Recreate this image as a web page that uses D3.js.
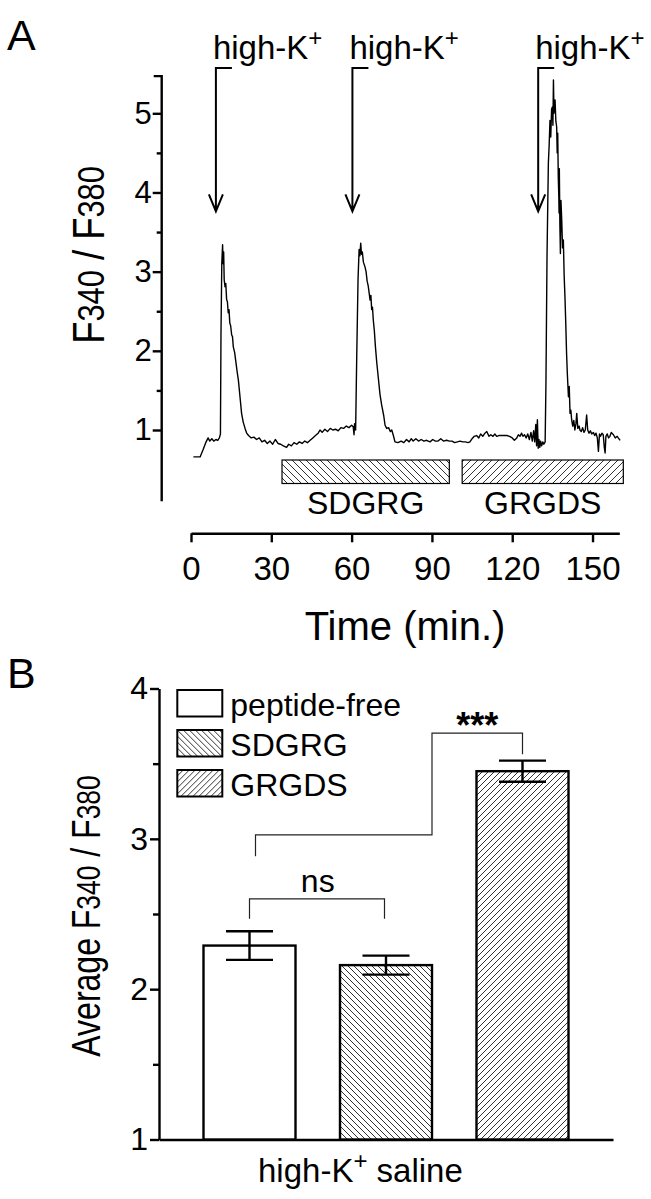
<!DOCTYPE html>
<html>
<head>
<meta charset="utf-8">
<script src="https://cdn.jsdelivr.net/npm/d3@7"></script>
<style>
body { margin: 0; background: #fff; }
svg { display: block; }
text { font-family: "Liberation Sans", Arial, Helvetica, sans-serif; fill: #000; }
</style>
</head>
<body>
<svg id="canvas" width="651" height="1199"></svg>
<script>
const svg = d3.select("#canvas")

// ---- panel A data: F340/F380 trace (time in min)
const traceTime = [0.9, 2.0, 3.4, 4.5, 5.5, 6.4, 7.0, 7.8, 8.5, 9.3, 10.0, 10.6, 11.0, 11.2, 11.5, 11.8, 12.0, 12.2, 12.4, 12.7,
  13.0, 13.3, 13.6, 13.9, 14.2, 14.5, 14.8, 15.2, 15.5, 15.8, 16.3, 16.8, 17.3, 17.7, 18.3, 18.9, 19.5, 20.2, 20.8, 21.5,
  22.5, 23.5, 24.5, 25.5, 26.5, 27.5, 28.5, 29.5, 30.5, 31.5, 32.5, 33.5, 34.5, 35.7, 36.5, 37.5, 38.5, 39.5, 40.5, 41.5,
  42.5, 43.5, 44.5, 45.5, 46.5, 47.5, 48.2, 49.0, 50.0, 51.0, 52.0, 53.0, 54.0, 55.0, 56.0, 57.0, 58.0, 59.0, 60.0, 60.6,
  60.9, 61.1, 61.5, 61.9, 62.4, 62.8, 63.1, 63.4, 63.7, 64.0, 64.4, 65.0, 65.4, 65.8, 66.2, 66.6, 66.9, 67.2, 67.5, 67.8,
  68.1, 68.5, 68.9, 69.4, 70.0, 70.6, 71.2, 72.0, 72.5, 73.1, 73.8, 74.5, 75.0, 75.6, 76.2, 77.3, 78.5, 79.5, 80.5, 81.5,
  82.3, 83.0, 84.0, 85.0, 86.0, 87.0, 88.0, 89.3, 90.3, 91.3, 92.3, 93.3, 94.3, 95.5, 96.5, 97.5, 98.5, 99.5, 100.5, 101.5,
  102.5, 103.5, 104.2, 105.0, 105.8, 106.7, 107.5, 108.2, 109.0, 109.8, 110.5, 111.3, 112.0, 112.8, 113.5, 114.2, 115.0, 116.0, 117.0, 118.0,
  119.0, 120.0, 120.8, 121.7, 122.3, 122.9, 123.5, 124.0, 124.6, 125.2, 125.8, 126.4, 127.0, 127.5, 128.0, 128.4, 128.8, 129.1, 129.4, 129.7,
  130.0, 130.3, 130.6, 131.0, 131.4, 131.8, 132.3, 132.6, 133.0, 133.5, 133.8, 134.1, 134.4, 134.7, 135.0, 135.2, 135.4, 135.6, 136.0, 136.3,
  136.6, 136.8, 137.0, 137.2, 137.4, 137.5, 137.6, 137.8, 138.0, 138.2, 138.5, 138.8, 139.1, 139.4, 139.7, 140.0, 140.3, 140.6, 141.0, 141.3,
  141.6, 141.9, 142.2, 142.6, 143.0, 143.4, 143.8, 144.1, 144.5, 145.0, 145.3, 145.8, 146.3, 146.8, 147.3, 147.8, 148.2, 148.7, 149.2, 149.7,
  150.3, 150.8, 151.3, 151.8, 152.2, 152.6, 153.0, 153.5, 154.0, 154.4, 154.7, 155.0, 155.5, 156.0, 156.5, 157.0, 157.8, 158.5, 159.2, 160.3]
const traceRatio = [0.66, 0.66, 0.66, 0.75, 0.84, 0.90, 0.86, 0.89, 0.86, 0.88, 0.87, 0.90, 0.95, 2.2, 3.1, 3.34, 3.1, 3.25, 2.9, 2.81,
  2.85, 2.65, 2.62, 2.48, 2.52, 2.35, 2.32, 2.2, 2.18, 2.05, 1.98, 1.85, 1.72, 1.63, 1.42, 1.21, 1.10, 1.02, 0.96, 0.93,
  0.90, 0.91, 0.88, 0.90, 0.85, 0.87, 0.83, 0.86, 0.82, 0.88, 0.83, 0.82, 0.80, 0.78, 0.82, 0.80, 0.84, 0.82, 0.85, 0.83,
  0.86, 0.84, 0.87, 0.90, 0.93, 0.96, 1.00, 0.97, 1.01, 0.98, 1.02, 1.00, 1.01, 0.99, 1.03, 1.02, 1.05, 1.03, 1.06, 1.04,
  0.94, 1.08, 1.00, 1.9, 2.9, 3.28, 3.2, 3.36, 3.22, 3.25, 3.12, 3.06, 3.0, 2.88, 2.82, 2.72, 2.64, 2.7, 2.52, 2.55,
  2.39, 2.25, 2.05, 1.85, 1.65, 1.45, 1.32, 1.18, 1.06, 1.02, 1.03, 0.98, 1.00, 0.93, 0.85, 0.84, 0.86, 0.84, 0.88, 0.85,
  0.89, 0.86, 0.89, 0.86, 0.88, 0.86, 0.87, 0.85, 0.88, 0.86, 0.86, 0.89, 0.86, 0.87, 0.86, 0.86, 0.84, 0.85, 0.86, 0.85,
  0.85, 0.84, 0.85, 0.89, 0.92, 0.93, 0.90, 0.95, 0.92, 0.96, 0.98, 0.92, 0.94, 0.92, 0.95, 0.92, 0.93, 0.93, 0.93, 0.93,
  0.92, 0.90, 0.87, 0.90, 0.94, 0.92, 0.96, 0.92, 0.94, 0.90, 0.95, 0.88, 0.97, 0.86, 0.99, 0.85, 1.07, 0.80, 1.13, 0.77,
  0.88, 0.78, 0.86, 0.80, 0.85, 0.82, 0.85, 1.6, 3.2, 4.37, 4.6, 4.91, 4.7, 5.05, 5.08, 4.85, 5.42, 5.0, 5.17, 4.9,
  4.83, 4.5, 4.75, 4.2, 3.95, 3.74, 4.3, 3.6, 3.23, 3.9, 3.65, 3.3, 3.4, 2.95, 2.68, 2.35, 1.97, 1.7, 1.42, 1.55,
  1.21, 1.25, 1.13, 1.05, 1.12, 1.0, 1.08, 1.21, 1.02, 1.05, 1.0, 0.98, 1.03, 0.97, 1.0, 1.19, 1.0, 0.96, 0.99, 0.95,
  0.97, 0.93, 0.96, 0.90, 0.73, 0.95, 0.92, 0.96, 0.94, 0.78, 0.71, 0.92, 0.95, 0.90, 0.92, 0.97, 0.94, 0.90, 0.92, 0.87]

const stimTimes = [9.3, 60.3, 129.7]
const peptideNames = ["SDGRG", "GRGDS"]
const peptideStart = [34, 101.3]
const peptideEnd = [96.5, 161.5]
const timeTicks = [0, 30, 60, 90, 120, 150]
const ratioTicks = [1, 2, 3, 4, 5]
const ratioMinor = [1.5, 2.5, 3.5, 4.5]

// ---- panel B data
const groups = ["peptide-free", "SDGRG", "GRGDS"]
const avgRatio = [2.29, 2.16, 3.45]
const avgSem = [0.095, 0.063, 0.07]
const avgTicks = [1, 2, 3, 4]
const avgMinor = [1.5, 2.5, 3.5]

// hatch patterns
const defs = svg.append("defs")
function hatch(id, size, back) {
  const p = defs.append("pattern").attr("id", id)
    .attr("patternUnits", "userSpaceOnUse").attr("width", size).attr("height", size)
  p.append("rect").attr("width", size).attr("height", size).attr("fill", "#fff")
  const d = back
    ? `M0,0L${size},${size}M${-size/2},${size/2}L${size/2},${size*1.5}M${size/2},${-size/2}L${size*1.5},${size/2}`
    : `M0,${size}L${size},0M${-size/2},${size/2}L${size/2},${-size/2}M${size/2},${size*1.5}L${size*1.5},${size/2}`
  p.append("path").attr("d", d).attr("stroke", "#333").attr("stroke-width", 1)
}
hatch("backA", 7, true)
hatch("fwdA", 7, false)
hatch("backB", 6, true)
hatch("fwdB", 6, false)
const fillA = { SDGRG: "url(#backA)", GRGDS: "url(#fwdA)" }
const fillB = { "peptide-free": "#fff", SDGRG: "url(#backB)", GRGDS: "url(#fwdB)" }

// small helper for the F340 / F380 labels
function ratioLabel(t, prefix, small) {
  if (prefix) t.append("tspan").text(prefix)
  t.append("tspan").text("F")
  t.append("tspan").attr("font-size", small).text("340")
  t.append("tspan").text(" / F")
  t.append("tspan").attr("font-size", small).text("380")
}

function styleAxis(g, size) {
  g.attr("font-family", null).attr("font-size", size)
  g.selectAll("line,path").attr("stroke", "#000").attr("stroke-width", 2.4)
}

// ================= panel A =================
const xA = d3.scaleLinear().domain([0, 160]).range([191, 619.3])
const yA = d3.scaleLinear().domain([1, 5]).range([430, 113.3])

svg.append("text").attr("x", 7).attr("y", 50).attr("font-size", 43).text("A")

const gyA = svg.append("g").attr("transform", "translate(161.7,0)")
gyA.call(d3.axisLeft(yA).tickValues(ratioTicks).tickFormat(d3.format("d")).tickSize(9).tickPadding(1).tickSizeOuter(0))
gyA.select(".domain").remove()
gyA.append("g").call(d3.axisLeft(yA).tickValues(ratioMinor).tickSize(5).tickFormat("").tickSizeOuter(0))
  .select(".domain").remove()
gyA.append("path").attr("fill", "none").attr("d", `M-8,${yA(5.47)}H0V${yA(0.1)}`)
styleAxis(gyA, 31)

const gxA = svg.append("g").attr("transform", "translate(0,533.3)")
  .call(d3.axisBottom(xA).tickValues(timeTicks).tickFormat(d3.format("d")).tickSize(9).tickPadding(14).tickSizeOuter(0))
styleAxis(gxA, 33)

svg.append("text").attr("x", 405).attr("y", 640).attr("text-anchor", "middle")
  .attr("font-size", 40).text("Time (min.)")

const yLabA = svg.append("text").attr("text-anchor", "middle").attr("font-size", 44)
  .attr("transform", "translate(104,255) rotate(-90) scale(0.83,1)")
ratioLabel(yLabA, null, 37)

// trace
const trace = d3.zip(traceTime, traceRatio)
svg.append("path").datum(trace)
  .attr("fill", "none").attr("stroke", "#000").attr("stroke-width", 1.4).attr("stroke-linejoin", "round")
  .attr("d", d3.line().x(d => xA(d[0])).y(d => yA(d[1])))

// stimulus arrows
const tipY = yA(3.76), topY = 68
const stim = svg.append("g").selectAll("g").data(stimTimes).enter().append("g")
stim.append("path").attr("fill", "none").attr("stroke", "#000").attr("stroke-width", 2)
  .attr("d", t => `M${xA(t) + 16},${topY}H${xA(t)}V${tipY}M${xA(t) - 7},${tipY - 17}L${xA(t)},${tipY}L${xA(t) + 7},${tipY - 17}`)
const stimText = stim.append("text").attr("x", t => xA(t) - 3).attr("y", 59).attr("font-size", 33)
stimText.append("tspan").text("high-K")
stimText.append("tspan").attr("font-size", 24).attr("dy", -13).text("+")

// peptide application bars
peptideNames.forEach((name, i) => {
  svg.append("rect").attr("x", xA(peptideStart[i])).attr("y", 460)
    .attr("width", xA(peptideEnd[i]) - xA(peptideStart[i])).attr("height", 23.5)
    .attr("fill", fillA[name]).attr("stroke", "#000").attr("stroke-width", 1.2)
  svg.append("text").attr("x", (xA(peptideStart[i]) + xA(peptideEnd[i])) / 2).attr("y", 514)
    .attr("text-anchor", "middle").attr("font-size", 32).text(name)
})

// ================= panel B =================
const xB = d3.scaleBand().domain(groups).range([159, 613]).padding(0.326)
const yB = d3.scaleLinear().domain([1, 4]).range([1139.5, 688.5])

svg.append("text").attr("x", 7).attr("y", 688).attr("font-size", 43).text("B")

const gyB = svg.append("g").attr("transform", "translate(159,0)")
gyB.call(d3.axisLeft(yB).tickValues(avgTicks).tickFormat(d3.format("d")).tickSize(9).tickPadding(2).tickSizeOuter(0))
gyB.append("g").call(d3.axisLeft(yB).tickValues(avgMinor).tickSize(6).tickFormat("").tickSizeOuter(0))
  .select(".domain").remove()
styleAxis(gyB, 32)

const gxB = svg.append("g").attr("transform", `translate(0,${yB(1)})`)
  .call(d3.axisBottom(xB).tickSize(0).tickFormat("").tickSizeOuter(0))
styleAxis(gxB, 32)

const yLabB = svg.append("text").attr("text-anchor", "middle").attr("font-size", 40)
  .attr("transform", "translate(100,916) rotate(-90) scale(0.8,1)")
ratioLabel(yLabB, "Average ", 33)

const xl = svg.append("text").attr("x", 258).attr("y", 1182).attr("font-size", 33)
xl.append("tspan").text("high-K")
xl.append("tspan").attr("font-size", 24).attr("dy", -13).text("+")
xl.append("tspan").attr("dy", 13).text(" saline")

// bars + error bars
const bars = svg.append("g").selectAll("g").data(groups).enter().append("g")
bars.append("rect")
  .attr("x", d => xB(d)).attr("width", xB.bandwidth())
  .attr("y", (d, i) => yB(avgRatio[i])).attr("height", (d, i) => yB(1) - yB(avgRatio[i]))
  .attr("fill", d => fillB[d]).attr("stroke", "#000").attr("stroke-width", 2.4)
bars.append("path").attr("fill", "none").attr("stroke", "#000").attr("stroke-width", 2.4)
  .attr("d", (d, i) => {
    const cx = xB(d) + xB.bandwidth() / 2, hi = yB(avgRatio[i] + avgSem[i]), lo = yB(avgRatio[i] - avgSem[i])
    return `M${cx - 23.5},${hi}H${cx + 23.5}M${cx},${hi}V${lo}M${cx - 23.5},${lo}H${cx + 23.5}`
  })

// legend
const leg = svg.append("g").selectAll("g").data(groups).enter().append("g")
  .attr("transform", (d, i) => `translate(177.3,${690 + i * 40})`)
leg.append("rect").attr("width", 45).attr("height", 26.5)
  .attr("fill", d => fillB[d]).attr("stroke", "#000").attr("stroke-width", 2)
leg.append("text").attr("x", 53).attr("y", 26).attr("font-size", 32).text(d => d)

// significance brackets
const cx = d => xB(d) + xB.bandwidth() / 2
const nsLeg = Math.min(yB(avgRatio[0] + avgSem[0]), yB(avgRatio[1] + avgSem[1])) - 12.5
const nsTop = nsLeg - 20
svg.append("path").attr("fill", "none").attr("stroke", "#222").attr("stroke-width", 1.2)
  .attr("d", `M${cx(groups[0])},${nsLeg}V${nsTop}H${cx(groups[1]) - 1.5}V${nsLeg}`)
svg.append("text").attr("x", (cx(groups[0]) + cx(groups[1])) / 2).attr("y", nsTop - 7)
  .attr("text-anchor", "middle").attr("font-size", 32).text("ns")

const sLeftLow = nsTop - 42.6, sLeftHigh = sLeftLow - 21.4
const sRightLow = yB(avgRatio[2] + avgSem[2]) - 6.5, sRightHigh = sRightLow - 21
const sMid = xB(groups[1]) + xB.bandwidth()
svg.append("path").attr("fill", "none").attr("stroke", "#222").attr("stroke-width", 1.2)
  .attr("d", `M${cx(groups[0]) + 6},${sLeftLow}V${sLeftHigh}H${sMid}V${sRightHigh}H${cx(groups[2])}V${sRightLow}`)
svg.append("text").attr("x", (sMid + cx(groups[2])) / 2).attr("y", sRightHigh + 5)
  .attr("text-anchor", "middle").attr("font-size", 36).attr("font-weight", "bold").text("***")
</script>
</body>
</html>
